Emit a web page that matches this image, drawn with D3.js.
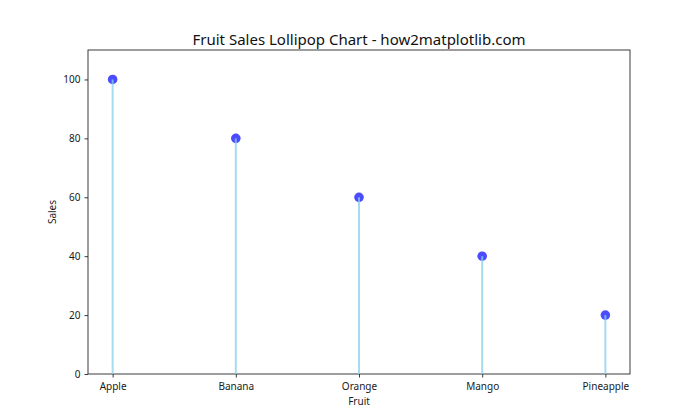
<!DOCTYPE html>
<html><head><meta charset="utf-8">
<script src="https://cdn.jsdelivr.net/npm/d3@7"></script>
<style>body{margin:0;background:#fff;} svg{display:block;font-family:"Noto Sans","Open Sans",sans-serif;}</style>
</head><body>
<svg id="c" width="700" height="420"></svg>
<script>
const fruits = ["Apple","Banana","Orange","Mango","Pineapple"];
const sales = [100,80,60,40,20];
const yTicks = [0,20,40,60,80,100];

const svg = d3.select("#c");
const L=88, R=630, T=50, B=374;
const x = d3.scaleLinear().domain([-0.2,4.2]).range([L,R]);
const y = d3.scaleLinear().domain([0,110]).range([B,T]);

svg.append("rect").attr("x",L).attr("y",T).attr("width",R-L).attr("height",B-T)
  .attr("fill","none").attr("stroke","#262626").attr("stroke-width",0.9);

const g = svg.append("g");
g.selectAll("circle").data(sales).join("circle")
  .attr("cx",(d,i)=>x(i)).attr("cy",d=>y(d)).attr("r",4.8)
  .attr("fill","blue").attr("fill-opacity",0.7);
g.selectAll("line.stem").data(sales).join("line").attr("class","stem")
  .attr("x1",(d,i)=>x(i)).attr("x2",(d,i)=>x(i))
  .attr("y1",y(0)).attr("y2",d=>y(d))
  .attr("stroke","#87ceeb").attr("stroke-opacity",0.75).attr("stroke-width",2);

const xa = svg.append("g").attr("transform",`translate(0,${B})`)
  .call(d3.axisBottom(x).tickValues(d3.range(fruits.length)).tickFormat(i=>fruits[i]).tickSizeOuter(0).tickSize(3.5).tickPadding(5));
const ya = svg.append("g").attr("transform",`translate(${L},0)`)
  .call(d3.axisLeft(y).tickValues(yTicks).tickSizeOuter(0).tickSize(3.5).tickPadding(4));
[xa,ya].forEach(a=>{
  a.select(".domain").remove();
  a.selectAll("line").attr("stroke","#262626").attr("stroke-width",0.9);
  a.selectAll("text").attr("fill","#1a1a1a").attr("font-size",10).attr("font-family","Noto Sans, Open Sans, sans-serif");
});

svg.append("text").attr("x",(L+R)/2).attr("y",45).attr("text-anchor","middle")
  .attr("font-size",15).attr("fill","#111").text("Fruit Sales Lollipop Chart - how2matplotlib.com");
svg.append("text").attr("x",(L+R)/2).attr("y",405).attr("text-anchor","middle")
  .attr("font-size",10).attr("fill","#1a1a1a").text("Fruit");
svg.append("text").attr("transform",`translate(56,${(T+B)/2}) rotate(-90)`).attr("text-anchor","middle")
  .attr("font-size",10).attr("fill","#1a1a1a").text("Sales");
</script>
</body></html>
